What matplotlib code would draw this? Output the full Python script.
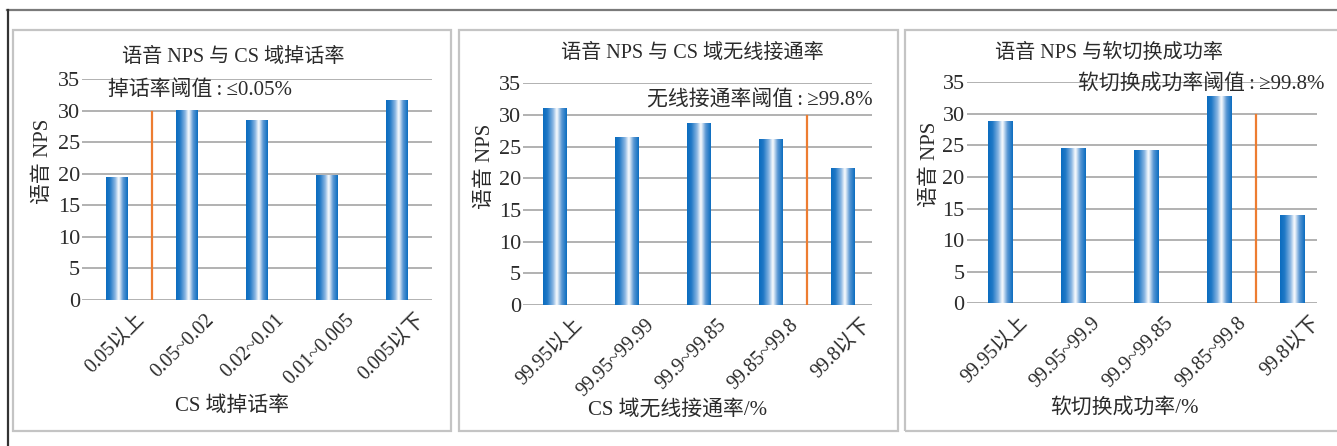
import numpy as np
import matplotlib
matplotlib.use("Agg")
import matplotlib.pyplot as plt
from matplotlib.patches import Rectangle
from matplotlib.lines import Line2D
from matplotlib.colors import LinearSegmentedColormap
from matplotlib.transforms import ScaledTranslation

plt.rcParams['font.family'] = ['Liberation Serif', 'Noto Sans CJK SC', 'DejaVu Sans']

# ---- data ----
cats_drop = ['0.05以上', '0.05~0.02', '0.02~0.01', '0.01~0.005', '0.005以下']
nps_drop = [19.5, 30.0, 28.4, 19.7, 31.7]

cats_conn = ['99.95以上', '99.95~99.99', '99.9~99.85', '99.85~99.8', '99.8以下']
nps_conn = [31.0, 26.4, 28.6, 26.2, 21.5]

cats_ho = ['99.95以上', '99.95~99.9', '99.9~99.85', '99.85~99.8', '99.8以下']
nps_ho = [28.7, 24.4, 24.1, 32.7, 13.8]

titles = ['语音 NPS 与 CS 域掉话率', '语音 NPS 与 CS 域无线接通率', '语音 NPS 与软切换成功率']
xlabels = ['CS 域掉话率', 'CS 域无线接通率/%', '软切换成功率/%']
notes = ['掉话率阈值\u2009:\u2009≤0.05%', '无线接通率阈值\u2009:\u2009≥99.8%',
         '软切换成功率阈值\u2009:\u2009≥99.8%']
threshold_pos = [0.5, 3.5, 3.5]
threshold_top = [29.8, 29.8, 29.8]
yticks = list(range(0, 36, 5))

# ---- figure helpers (pixel layout) ----
W, H = 1337, 446
fig = plt.figure(figsize=(W / 100, H / 100), dpi=100)


def fx(x):
    return x / W


def fy(y):
    return 1 - y / H


TXT = '#2b2b2b'
GRID = '#ababab'
ORANGE = '#ED7D31'

bar_cmap = LinearSegmentedColormap.from_list(
    'bar', [(0.0, '#0a6cbf'), (0.18, '#1f78c6'), (0.42, '#8ab6e2'),
            (0.58, '#ffffff'), (0.78, '#5b98d4'), (1.0, '#0a6cbf')])
grad = np.linspace(0, 1, 256).reshape(1, -1)

# outer frame
fig.add_artist(Line2D([fx(7), fx(1337)], [fy(10), fy(10)], color='#7a7a7a', lw=1.6))
fig.add_artist(Line2D([fx(7.5), fx(7.5)], [fy(10), fy(446)], color='#333333', lw=1.6))

panels = [(12.5, 30, 451, 431), (459, 30, 897.5, 431), (905, 30, 1345, 431)]
for (x0, y0, x1, y1) in panels:
    fig.add_artist(Rectangle((fx(x0), fy(y1)), (x1 - x0) / W, (y1 - y0) / H,
                             fill=False, edgecolor='#c4c4c4', lw=1.6))

# axes boxes in pixels: left, top, right, bottom ; and x-limits
axes_px = [(82, 79.3, 432, 300), (523, 83.3, 872, 305), (966.7, 82.3, 1316.7, 303.3)]
xlims = [(-0.5, 4.5), (-0.444, 4.403), (-0.456, 4.338)]
bar_w = [0.31, 0.33, 0.33]
ylabel_x = [43, 485, 930]
title_xy = [(233, 57), (692, 53), (1109, 53)]
xlabel_xy = [(232, 406), (678, 410), (1124, 408)]
note_xy = [(108, 90, 'left'), (873, 100, 'right'), (1325, 85, 'right')]

datasets = [(cats_drop, nps_drop), (cats_conn, nps_conn), (cats_ho, nps_ho)]

for i, (cats, vals) in enumerate(datasets):
    l, t, r, b = axes_px[i]
    ax = fig.add_axes([fx(l), fy(b), (r - l) / W, (b - t) / H])
    xs = np.arange(len(cats))
    bars = ax.bar(xs, vals, width=bar_w[i], color='#0a6cbf', zorder=3)
    for p in bars.patches:
        x0 = p.get_x()
        ax.imshow(grad, extent=(x0, x0 + p.get_width(), 0, p.get_height()),
                  aspect='auto', cmap=bar_cmap, interpolation='bicubic', zorder=3)
        p.set_visible(False)
    ax.plot([threshold_pos[i]] * 2, [0, threshold_top[i]], color=ORANGE, lw=1.6, zorder=4)

    ax.set_xlim(*xlims[i])
    ax.set_ylim(0, 35)
    ax.set_yticks(yticks)
    ax.yaxis.grid(True, color=GRID, lw=1.3)
    ax.set_axisbelow(True)
    for s in ax.spines.values():
        s.set_visible(False)
    ax.tick_params(axis='y', length=0, pad=1.5, labelsize=16, labelcolor=TXT)
    ax.tick_params(axis='x', length=0, pad=0, labelsize=14.5, labelcolor=TXT)
    ax.set_xticks(xs)
    ax.set_xticklabels(cats, rotation=45, ha='right', va='center', rotation_mode='anchor')
    off = ScaledTranslation(0.25, -0.17, fig.dpi_scale_trans)
    for lbl in ax.get_xticklabels():
        lbl.set_transform(lbl.get_transform() + off)

    fig.text(fx(title_xy[i][0]), fy(title_xy[i][1]), titles[i], ha='center', va='center',
             fontsize=14.5, color=TXT)
    fig.text(fx(xlabel_xy[i][0]), fy(xlabel_xy[i][1]), xlabels[i], ha='center', va='center',
             fontsize=15, color=TXT)
    fig.text(fx(ylabel_x[i]), fy((t + b) / 2 - 28), '语音 NPS', ha='center', va='center',
             rotation=90, fontsize=15, color=TXT)
    nx, ny, nha = note_xy[i]
    fig.text(fx(nx), fy(ny), notes[i], ha=nha, va='center', fontsize=15, color=TXT)

fig.savefig('out.png', dpi=100)
